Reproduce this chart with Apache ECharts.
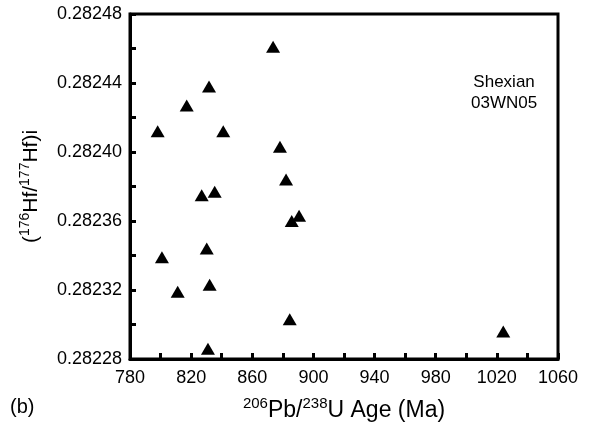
<!DOCTYPE html>
<html>
<head>
<meta charset="utf-8">
<script src="https://cdn.jsdelivr.net/npm/echarts@6/dist/echarts.min.js"></script>
<style>html,body{margin:0;padding:0;background:#fff}#c{width:592px;height:422px}</style>
</head>
<body>
<div id="c"></div>
<script>
var ages = [873.6, 831.7, 817.1, 798.1, 841.0, 878.1, 882.1, 826.9, 835.4, 890.6, 885.8, 830.2, 800.9, 811.2, 832.1, 884.5, 831.0, 1024.2];
var hfRatios = [0.282461, 0.282438, 0.282427, 0.282412, 0.282412, 0.282403, 0.282384, 0.282375, 0.282377, 0.282363, 0.282360, 0.282344, 0.282339, 0.282319, 0.282323, 0.282303, 0.282286, 0.282296];
var xTicks = [780, 820, 860, 900, 940, 980, 1020, 1060];
var yTicks = ['0.28228', '0.28232', '0.28236', '0.28240', '0.28244', '0.28248'];
var sampleLabel = ['Shexian', '03WN05'];

var points = ages.map(function (a, i) { return [a, hfRatios[i]]; });
var font = 'Liberation Sans, Arial, sans-serif';
var chart = echarts.init(document.getElementById('c'));
chart.setOption({
  animation: false,
  backgroundColor: '#fff',
  grid: { left: 130, right: 34, top: 14, bottom: 63, containLabel: false, outerBoundsMode: 'none', show: true, borderColor: '#000', borderWidth: 3, backgroundColor: 'transparent' },
  xAxis: {
    type: 'value', min: xTicks[0], max: xTicks[xTicks.length - 1], interval: 40,
    axisLine: { show: true, lineStyle: { color: '#000', width: 3 } },
    axisTick: { show: true, inside: true, length: 6, lineStyle: { color: '#000', width: 3 } },
    minorTick: { show: true, splitNumber: 2, length: 6, lineStyle: { color: '#000', width: 3 } },
    splitLine: { show: false },
    axisLabel: { color: '#000', fontSize: 18, fontFamily: font, margin: 10, formatter: function (v) { return String(v); } },
    name: '{sup|206}{n|Pb/}{sup|238}{n|U Age (Ma)}',
    nameLocation: 'middle', nameGap: 37,
    nameTextStyle: {
      fontFamily: font,
      rich: {
        n: { fontSize: 23, fontFamily: font, color: '#000', lineHeight: 26, verticalAlign: 'bottom' },
        sup: { fontSize: 15, fontFamily: font, color: '#000', lineHeight: 26, verticalAlign: 'top' }
      }
    }
  },
  yAxis: {
    type: 'value', min: 0.28228, max: 0.28248, interval: 0.00004,
    axisLine: { show: true, lineStyle: { color: '#000', width: 3 } },
    axisTick: { show: true, inside: true, length: 6, lineStyle: { color: '#000', width: 3 } },
    minorTick: { show: true, splitNumber: 2, length: 6, lineStyle: { color: '#000', width: 3 } },
    splitLine: { show: false },
    axisLabel: { color: '#000', fontSize: 18, fontFamily: font, margin: 8, formatter: function (v) { return v.toFixed(5); } },
    name: '{n|(}{sup|176}{n|Hf/}{sup|177}{n|Hf)i}',
    nameLocation: 'middle', nameGap: 88,
    nameTextStyle: {
      fontFamily: font,
      rich: {
        n: { fontSize: 21, fontFamily: font, color: '#000', lineHeight: 24, verticalAlign: 'bottom' },
        sup: { fontSize: 14, fontFamily: font, color: '#000', lineHeight: 24, verticalAlign: 'top' }
      }
    }
  },
  graphic: [
    { type: 'text', left: 10, top: 397, style: { text: '(b)', fontSize: 20, fontFamily: font, fill: '#000' } },
    { type: 'text', left: 471, top: 72, style: { text: sampleLabel.join('\n'), fontSize: 17, lineHeight: 21, fontFamily: font, fill: '#000', textAlign: 'center' } }
  ],
  series: [{
    type: 'scatter',
    data: points,
    symbol: 'triangle',
    symbolSize: [14, 12],
    itemStyle: { color: '#000', opacity: 1 }
  }]
});
</script>
</body>
</html>
